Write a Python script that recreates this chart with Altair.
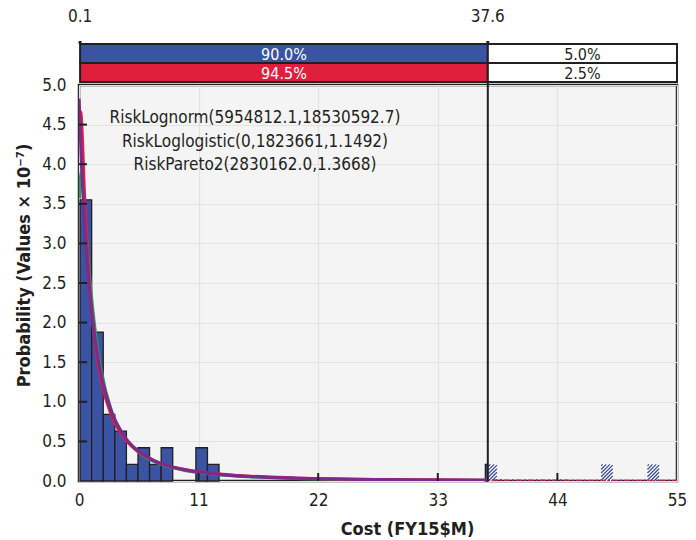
import altair as alt
import pandas as pd
import numpy as np

FONT = "DejaVu Sans Condensed, Liberation Sans Narrow, sans-serif"
INK = "#231f20"
BLUE = "#3a53a3"
RED = "#e01f3d"
PURPLE = "#7d2a8c"
GREEN = "#2a9d55"
HATCH = "#3a4f9c"

W, H = 598, 396
X_MAX, Y_MAX = 55, 5.0

# ---- histogram (probability, values x 1e-7) ----
bar_start = [0.1, 1.165, 2.23, 3.295, 4.36, 5.425, 6.49, 7.555, 10.75, 11.815, 37.375]
bar_end = [1.165, 2.23, 3.295, 4.36, 5.425, 6.49, 7.555, 8.62, 11.815, 12.88, 37.6]
bar_height = [3.55, 1.88, 0.84, 0.63, 0.21, 0.42, 0.21, 0.42, 0.42, 0.21, 0.21]

# bars beyond the 37.6 delimiter (drawn hatched)
hatch_start = [37.6, 48.025, 52.285]
hatch_end = [38.44, 49.09, 53.35]
hatch_height = [0.21, 0.21, 0.21]

# ---- fitted curves ----
pareto_x = [0, 0.25, 0.5, 0.75, 1, 1.5, 2, 2.5, 3, 4, 5, 6, 7, 8, 10, 12, 14, 17, 20, 25, 30, 37.6]
pareto_y = [4.83, 3.95, 3.29, 2.77, 2.36, 1.77, 1.36, 1.08, 0.87, 0.60, 0.43, 0.33, 0.25, 0.20,
            0.135, 0.096, 0.071, 0.048, 0.035, 0.022, 0.015, 0.009]
lognorm_x = [0.1, 0.17, 0.25, 0.5, 0.75, 1, 1.5, 2, 3, 4, 5, 6, 8, 10, 14, 20, 30, 37.6]
lognorm_y = [4.40, 4.66, 4.52, 3.65, 2.93, 2.40, 1.71, 1.29, 0.82, 0.57, 0.42, 0.32, 0.20,
             0.14, 0.077, 0.039, 0.017, 0.010]
loglog_x = [0.05, 0.18, 0.25, 0.5, 0.75, 1, 1.5, 2, 3, 4, 5, 6, 8, 10, 14, 20, 30, 37.6]
loglog_y = [3.57, 3.90, 3.86, 3.46, 2.98, 2.56, 1.89, 1.43, 0.88, 0.59, 0.42, 0.31, 0.19,
            0.125, 0.066, 0.032, 0.014, 0.009]
tail_x = [37.6, 45, 55]
tail_y = [0.010, 0.006, 0.004]

# ---- delimiters / range bars ----
range_lo, range_hi = 0.1, 37.6
fit_labels = ["90.0%", "5.0%"]
data_labels = ["94.5%", "2.5%"]
delim_labels = ["0.1", "37.6"]

fit_text = [
    "RiskLognorm(5954812.1,18530592.7)",
    "RiskLoglogistic(0,1823661,1.1492)",
    "RiskPareto2(2830162.0,1.3668)",
]

x_ticks = [0, 11, 22, 33, 44, 55]
y_ticks = [0, 0.5, 1.0, 1.5, 2.0, 2.5, 3.0, 3.5, 4.0, 4.5, 5.0]

xs = alt.Scale(domain=[0, X_MAX], nice=False, zero=False)
ys = alt.Scale(domain=[0, Y_MAX], nice=False, zero=False)
x_axis = alt.Axis(values=x_ticks, format="d", title="Cost (FY15$M)",
                  labelPadding=11, titlePadding=12, labelFlush=False, titleX=328)
y_axis = alt.Axis(values=y_ticks, format=".1f",
                  title="Probability (Values \u00d7 10\u207b\u2077)",
                  labelPadding=13, titlePadding=8, labelFlush=False, titleY=180)


def X(f):
    return alt.X(f, scale=xs, axis=x_axis)


def Y(f):
    return alt.Y(f, scale=ys, axis=y_axis)


bars_df = pd.DataFrame({"s": bar_start, "e": bar_end, "h": bar_height})
bars = alt.Chart(bars_df).mark_rect(fill=BLUE, stroke=INK, strokeWidth=1.3).encode(
    x=X("s:Q"), x2="e:Q", y=Y("h:Q"), y2=alt.datum(0))

hatch_df = pd.DataFrame({"s": hatch_start, "e": hatch_end, "h": hatch_height})
hatch_bg = alt.Chart(hatch_df).mark_rect(fill="#ffffff").encode(
    x=X("s:Q"), x2="e:Q", y=Y("h:Q"), y2=alt.datum(0))

# stripes clipped to each hatched bar
sx, sy = W / X_MAX, H / Y_MAX
seg = []
for s, e, h in zip(hatch_start, hatch_end, hatch_height):
    bw, bh = (e - s) * sx, h * sy
    for c in np.arange(-bw + 1.5, bh, 3.6):
        x0p, y0p = (0.0, c) if c >= 0 else (-c, 0.0)
        if bw + c <= bh:
            x1p, y1p = bw, bw + c
        else:
            x1p, y1p = bh - c, bh
        seg.append({"x": s + x0p / sx, "y": y0p / sy, "x2": s + x1p / sx, "y2": y1p / sy})
seg_df = pd.DataFrame(seg)
stripes = alt.Chart(seg_df).mark_rule(color=HATCH, strokeWidth=1.3).encode(
    x=X("x:Q"), x2="x2:Q", y=Y("y:Q"), y2="y2:Q")


def curve(xv, yv, color, width, dash=None):
    df = pd.DataFrame({"x": xv, "y": yv})
    kw = dict(color=color, strokeWidth=width, interpolate="monotone", clip=True)
    if dash:
        kw["strokeDash"] = dash
    return alt.Chart(df).mark_line(**kw).encode(x=X("x:Q"), y=Y("y:Q"))


green = curve(loglog_x, loglog_y, GREEN, 3)
red = curve(lognorm_x, lognorm_y, RED, 3)
purple = curve(pareto_x, pareto_y, PURPLE, 3.2)
tail_r = curve(tail_x, tail_y, RED, 1.8, [2, 2])
tail_p = curve(tail_x, tail_y, PURPLE, 1.8, [2, 4])

# inward ticks
ytk = alt.Chart(pd.DataFrame({"v": y_ticks[1:-1]})).mark_rule(color=INK, strokeWidth=2).encode(
    y=Y("v:Q"), x=alt.value(0), x2=alt.value(8))
xtk = alt.Chart(pd.DataFrame({"v": x_ticks[1:-1]})).mark_rule(color=INK, strokeWidth=2).encode(
    x=X("v:Q"), y=alt.value(H), y2=alt.value(H - 8))

# delimiter line
delim = alt.Chart(pd.DataFrame({"v": [range_hi]})).mark_rule(color=INK, strokeWidth=2).encode(
    x=X("v:Q"), y=alt.value(-41), y2=alt.value(H))


def range_row(labels, color, ytop, ybot):
    df = pd.DataFrame({"s": [range_lo, range_hi], "e": [range_hi, X_MAX], "label": labels,
                       "fill": [color, "#ffffff"], "tc": ["#ffffff", INK]})
    rect = alt.Chart(df).mark_rect(stroke=INK, strokeWidth=2).encode(
        x=X("s:Q"), x2="e:Q", y=alt.value(ytop), y2=alt.value(ybot),
        fill=alt.Fill("fill:N", scale=None))
    txt = alt.Chart(df).transform_calculate(m="(datum.s+datum.e)/2").mark_text(
        font=FONT, fontSize=16, baseline="middle", align="center").encode(
        x=X("m:Q"), y=alt.value((ytop + ybot) / 2 + 1),
        text="label:N", color=alt.Color("tc:N", scale=None))
    return [rect, txt]


row_fit = range_row(fit_labels, BLUE, -41, -22)
row_data = range_row(data_labels, RED, -22, -3)

dl_df = pd.DataFrame({"v": [range_lo, range_hi], "label": delim_labels})
dl_text = alt.Chart(dl_df).mark_text(font=FONT, fontSize=17, color=INK, baseline="middle").encode(
    x=X("v:Q"), y=alt.value(-68), text="label:N")
dl_tick = alt.Chart(dl_df).mark_rule(color=INK, strokeWidth=3).encode(
    x=X("v:Q"), y=alt.value(-44), y2=alt.value(-41))

ann_layers = []
for i, t in enumerate(fit_text):
    ann_layers.append(
        alt.Chart(pd.DataFrame({"t": [t]})).mark_text(
            font=FONT, fontSize=17, color=INK, align="center", baseline="middle").encode(
            x=alt.value(176), y=alt.value(33 + 23.5 * i), text="t:N"))

chart = alt.layer(
    bars, hatch_bg, stripes, green, red, purple, tail_r, tail_p,
    ytk, xtk, delim, *row_fit, *row_data, dl_text, dl_tick, *ann_layers
).properties(
    width=W, height=H,
    autosize=alt.AutoSizeParams(type="none"),
    padding={"left": 71, "top": 77, "right": 11, "bottom": 59},
).configure_view(
    fill="#f4f4f4", stroke=INK, strokeWidth=2.5
).configure_axis(
    grid=True, gridColor="#e2e2e2", gridWidth=1.2, domain=False, ticks=False, tickSize=0,
    labelFont=FONT, labelFontSize=17, labelColor=INK,
    titleFont=FONT, titleFontSize=18, titleFontWeight="bold", titleColor=INK,
)

chart.save("out.html", embed_options={"renderer": "svg", "actions": False})
